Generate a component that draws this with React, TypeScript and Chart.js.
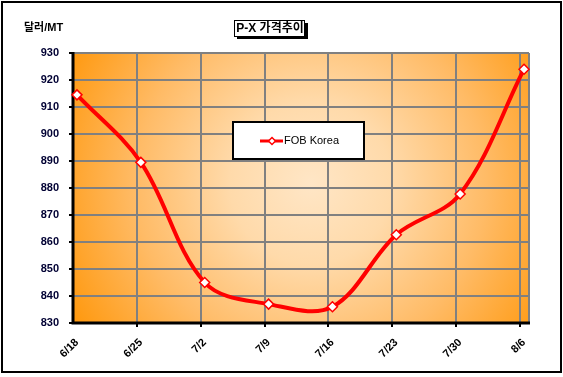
import React, { useEffect, useRef } from "react";
import { Chart, registerables } from "chart.js";

Chart.register(...registerables);

const categories = ["6/18", "6/25", "7/2", "7/9", "7/16", "7/23", "7/30", "8/6"];
const fobKorea = [914.5, 889.5, 845, 837, 836, 862.7, 877.8, 924];
const yTicks = [830, 840, 850, 860, 870, 880, 890, 900, 910, 920, 930];
const seriesName = "FOB Korea";
const chartTitle = "P-X 가격추이";
const yUnit = "달러/MT";

const FONT = "'Liberation Sans', Arial, 'Noto Sans CJK KR', sans-serif";

const decorPlugin = {
  id: "decor",
  beforeDraw(chart: any) {
    const { ctx, chartArea: a } = chart;
    ctx.save();
    ctx.fillStyle = "#ffffff";
    ctx.fillRect(0, 0, chart.width, chart.height);
    const cx = (a.left + a.right) / 2 + 10;
    const cy = (a.top + a.bottom) / 2 - 5;
    const g = ctx.createRadialGradient(cx, cy, 0, cx, cy, 270);
    g.addColorStop(0, "#FFE6C6");
    g.addColorStop(0.3, "#FFDAAA");
    g.addColorStop(0.65, "#FFBB66");
    g.addColorStop(1, "#FF9A12");
    ctx.fillStyle = g;
    ctx.fillRect(a.left, a.top, a.right - a.left, a.bottom - a.top);
    ctx.restore();
  },
  beforeDatasetsDraw(chart: any) {
    const { ctx, chartArea: a } = chart;
    const xs = chart.scales.x;
    ctx.save();
    ctx.strokeStyle = "#808080";
    ctx.lineWidth = 2;
    const step = xs.getPixelForValue(1) - xs.getPixelForValue(0);
    for (let k = 1; k <= 7; k++) {
      const px = Math.round(a.left + k * step);
      ctx.beginPath();
      ctx.moveTo(px, a.top);
      ctx.lineTo(px, a.bottom);
      ctx.stroke();
      ctx.strokeStyle = "#000";
      ctx.beginPath();
      ctx.moveTo(px, a.bottom);
      ctx.lineTo(px, a.bottom + 4);
      ctx.stroke();
      ctx.strokeStyle = "#808080";
    }
    ctx.beginPath();
    ctx.moveTo(a.right, a.top);
    ctx.lineTo(a.right, a.bottom);
    ctx.stroke();
    ctx.beginPath();
    ctx.moveTo(a.left, a.top);
    ctx.lineTo(a.right, a.top);
    ctx.stroke();
    ctx.strokeStyle = "#000";
    ctx.lineWidth = 3;
    ctx.beginPath();
    ctx.moveTo(a.left, a.top - 1);
    ctx.lineTo(a.left, a.bottom);
    ctx.lineTo(a.right + 1, a.bottom);
    ctx.stroke();
    ctx.restore();
  },
  afterDraw(chart: any) {
    const { ctx } = chart;
    ctx.save();
    ctx.strokeStyle = "#000";
    ctx.lineWidth = 2;
    ctx.strokeRect(2, 2, 559, 370);

    ctx.fillStyle = "#000";
    ctx.font = `bold 11px ${FONT}`;
    ctx.textAlign = "left";
    ctx.textBaseline = "middle";
    ctx.fillText(yUnit, 24, 28);

    ctx.fillStyle = "#000";
    ctx.fillRect(237, 23, 71, 16);
    ctx.fillStyle = "#fff";
    ctx.fillRect(234, 20, 71, 17);
    ctx.lineWidth = 1;
    ctx.strokeStyle = "#000";
    ctx.strokeRect(234.5, 20.5, 70, 16);
    ctx.fillStyle = "#000";
    ctx.font = `bold 12px ${FONT}`;
    ctx.textAlign = "center";
    ctx.fillText(chartTitle, 270, 29);

    const ds = chart.data.datasets[0];
    ctx.fillStyle = "#fff";
    ctx.fillRect(232, 121, 133, 39);
    ctx.lineWidth = 2;
    ctx.strokeStyle = "#000";
    ctx.strokeRect(233, 122, 131, 37);
    ctx.strokeStyle = ds.borderColor;
    ctx.lineWidth = 3;
    ctx.beginPath();
    ctx.moveTo(260, 141);
    ctx.lineTo(283, 141);
    ctx.stroke();
    ctx.fillStyle = "#fff";
    ctx.lineWidth = 1.5;
    ctx.beginPath();
    ctx.moveTo(272, 137.5);
    ctx.lineTo(275.5, 141);
    ctx.lineTo(272, 144.5);
    ctx.lineTo(268.5, 141);
    ctx.closePath();
    ctx.fill();
    ctx.stroke();
    ctx.fillStyle = "#000";
    ctx.font = `11px ${FONT}`;
    ctx.textAlign = "left";
    ctx.fillText(seriesName, 284, 141);
    ctx.restore();
  },
};

export default function App() {
  const ref = useRef<HTMLCanvasElement>(null);
  useEffect(() => {
    if (!ref.current) return;
    const chart = new Chart(ref.current, {
      type: "line",
      data: {
        datasets: [
          {
            label: seriesName,
            data: fobKorea.map((v, i) => ({ x: i, y: v })),
            borderColor: "#FF0000",
            borderWidth: 4,
            tension: 0.35,
            pointStyle: "rectRot",
            pointRadius: 5,
            pointBackgroundColor: "#ffffff",
            pointBorderColor: "#FF0000",
            pointBorderWidth: 1.5,
            clip: false as any,
          },
        ],
      },
      options: {
        responsive: false,
        animation: false,
        layout: { padding: { left: 0, top: 53, right: 34, bottom: 0 } },
        plugins: {
          legend: { display: false },
          title: { display: false },
          tooltip: { enabled: false },
        },
        scales: {
          x: {
            type: "linear",
            min: -0.0625,
            max: 7.078,
            afterBuildTicks(scale: any) {
              scale.ticks = categories.map((_, i) => ({ value: i }));
            },
            afterFit(scale: any) {
              scale.height = 54;
            },
            grid: { display: false },
            border: { display: false },
            ticks: {
              autoSkip: false,
              maxRotation: 45,
              minRotation: 45,
              padding: 5,
              color: "#000",
              font: { family: FONT, size: 11, weight: "bold" },
              callback: (v: any) => categories[Math.round(Number(v))] ?? "",
            },
          },
          y: {
            min: 830,
            max: 930,
            afterBuildTicks(scale: any) {
              scale.ticks = yTicks.map((v) => ({ value: v }));
            },
            afterFit(scale: any) {
              scale.width = 73;
            },
            grid: {
              color: "#808080",
              lineWidth: 2,
              tickColor: "#000",
              tickLength: 4,
            },
            border: { display: false },
            ticks: {
              padding: 10,
              color: "#000033",
              font: { family: FONT, size: 11, weight: "bold" },
            },
          },
        },
      },
      plugins: [decorPlugin],
    });
    return () => chart.destroy();
  }, []);
  return (
    <div style={{ position: "fixed", left: 0, top: 0, width: 563, height: 377 }}>
      <canvas ref={ref} width={563} height={377} style={{ width: 563, height: 377 }} />
    </div>
  );
}
